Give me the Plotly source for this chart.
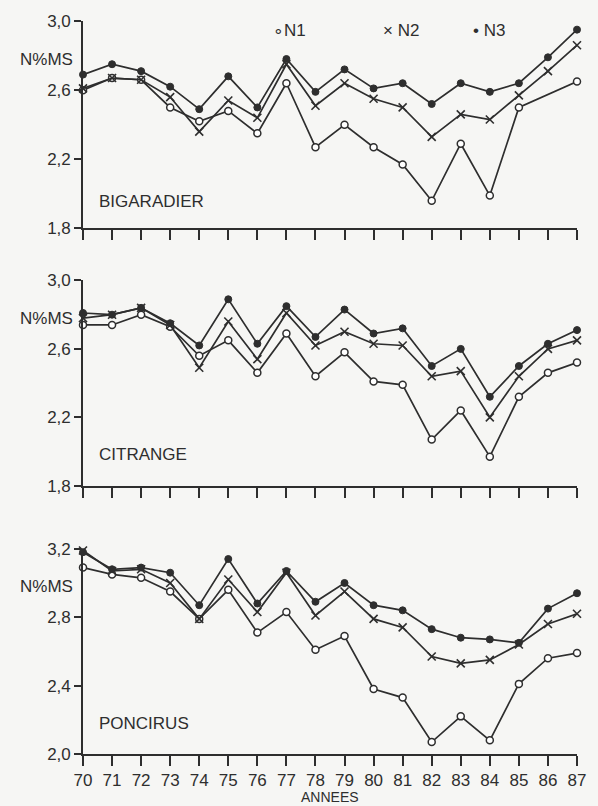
import plotly.graph_objects as go

# Years (19xx) on the shared horizontal axis
years = list(range(70, 88))
year_labels = [str(y) for y in years]

# Leaf nitrogen content (N % dry matter) for three fertilisation levels
bigaradier_n1 = [2.60, 2.67, 2.66, 2.50, 2.42, 2.48, 2.35, 2.64, 2.27, 2.40,
                 2.27, 2.17, 1.96, 2.29, 1.99, 2.50, None, 2.65]
bigaradier_n2 = [2.61, 2.67, 2.66, 2.56, 2.36, 2.54, 2.44, 2.75, 2.51, 2.64,
                 2.55, 2.50, 2.33, 2.46, 2.43, 2.57, 2.71, 2.86]
bigaradier_n3 = [2.69, 2.75, 2.71, 2.62, 2.49, 2.68, 2.50, 2.78, 2.59, 2.72,
                 2.61, 2.64, 2.52, 2.64, 2.59, 2.64, 2.79, 2.95]

citrange_n1 = [2.74, 2.74, 2.80, 2.73, 2.56, 2.65, 2.46, 2.69, 2.44, 2.58,
               2.41, 2.39, 2.07, 2.24, 1.97, 2.32, 2.46, 2.52]
citrange_n2 = [2.78, 2.80, 2.84, 2.74, 2.49, 2.76, 2.54, 2.81, 2.62, 2.70,
               2.63, 2.62, 2.44, 2.47, 2.20, 2.44, 2.60, 2.65]
citrange_n3 = [2.81, 2.80, 2.84, 2.75, 2.62, 2.89, 2.63, 2.85, 2.67, 2.83,
               2.69, 2.72, 2.50, 2.60, 2.32, 2.50, 2.63, 2.71]

poncirus_n1 = [3.09, 3.05, 3.03, 2.95, 2.79, 2.96, 2.71, 2.83, 2.61, 2.69,
               2.38, 2.33, 2.07, 2.22, 2.08, 2.41, 2.56, 2.59]
poncirus_n2 = [3.19, 3.07, 3.08, 3.00, 2.79, 3.02, 2.83, 3.06, 2.81, 2.95,
               2.79, 2.74, 2.57, 2.53, 2.55, 2.64, 2.76, 2.82]
poncirus_n3 = [3.18, 3.08, 3.09, 3.06, 2.87, 3.14, 2.88, 3.07, 2.89, 3.00,
               2.87, 2.84, 2.73, 2.68, 2.67, 2.65, 2.85, 2.94]

rootstocks = ["BIGARADIER", "CITRANGE", "PONCIRUS"]
series_names = ["N1", "N2", "N3"]

upper_ticks = [1.8, 2.2, 2.6, 3.0]
upper_tick_labels = ["1,8", "2,2", "2,6", "3,0"]
lower_ticks = [2.0, 2.4, 2.8, 3.2]
lower_tick_labels = ["2,0", "2,4", "2,8", "3,2"]

y_label = "N%MS"
x_label = "ANNEES"

INK = "#2e2e2e"
BG = "#f6f6f4"
FONT = "Liberation Sans, Arial, sans-serif"

panels = [
    (rootstocks[0], [bigaradier_n1, bigaradier_n2, bigaradier_n3], upper_ticks, upper_tick_labels),
    (rootstocks[1], [citrange_n1, citrange_n2, citrange_n3], upper_ticks, upper_tick_labels),
    (rootstocks[2], [poncirus_n1, poncirus_n2, poncirus_n3], lower_ticks, lower_tick_labels),
]

marker_styles = [
    dict(symbol="circle", size=7, color="white", line=dict(color=INK, width=1.5)),
    dict(symbol="x-thin", size=8, color=INK, line=dict(color=INK, width=1.6)),
    dict(symbol="circle", size=7, color=INK, line=dict(color=INK, width=1)),
]

# vertical placement of the three panels (paper fractions)
domains = [[0.717, 1.0], [0.366, 0.646], [0.0, 0.280]]

fig = go.Figure()
layout = {}
annotations = []

for i, (name, series, ticks, tick_labels) in enumerate(panels):
    n = i + 1
    xa = "x" if n == 1 else f"x{n}"
    ya = "y" if n == 1 else f"y{n}"
    for s, values, mk in zip(series_names, series, marker_styles):
        fig.add_trace(go.Scatter(
            x=years, y=values, mode="lines+markers", name=s,
            xaxis=xa, yaxis=ya, showlegend=False, connectgaps=True,
            line=dict(color=INK, width=1.7), marker=mk, cliponaxis=False,
        ))
    last = (n == 3)
    layout[f"xaxis{'' if n == 1 else n}"] = dict(
        domain=[0, 1], anchor=ya, range=[70, 87],
        tickvals=years, ticktext=year_labels if last else [""] * len(years),
        showticklabels=last, ticks="outside", ticklen=10, tickwidth=1.6,
        tickcolor=INK, showline=True, linecolor=INK, linewidth=1.6,
        showgrid=False, zeroline=False,
        tickfont=dict(size=17, color=INK, family=FONT),
    )
    layout[f"yaxis{'' if n == 1 else n}"] = dict(
        domain=domains[i], anchor=xa, range=[ticks[0], ticks[-1]],
        tickvals=ticks, ticktext=tick_labels, ticks="outside", ticklen=7,
        tickwidth=1.6, tickcolor=INK, showline=True, linecolor=INK,
        linewidth=1.6, showgrid=False, zeroline=False,
        tickfont=dict(size=17, color=INK, family=FONT),
    )
    annotations.append(dict(
        text=y_label, xref="paper", yref=f"{ya} domain", x=-0.016, y=0.815,
        xanchor="right", yanchor="middle", showarrow=False,
        font=dict(size=17, color=INK, family=FONT),
    ))
    annotations.append(dict(
        text=name, xref="paper", yref=f"{ya} domain", x=0.029,
        y=0.13 if n == 1 else 0.15,
        xanchor="left", yanchor="middle", showarrow=False,
        font=dict(size=17, color=INK, family=FONT),
    ))

# legend keys along the top of the first panel
legend_keys = ["∘N1", "× N2", "• N3"]
for key, xpos in zip(legend_keys, [0.380, 0.604, 0.786]):
    annotations.append(dict(
        text=key, xref="paper", yref="paper", x=xpos, y=0.987,
        xanchor="left", yanchor="middle", showarrow=False,
        font=dict(size=17, color=INK, family=FONT),
    ))

annotations.append(dict(
    text=x_label, xref="paper", yref="paper", x=0.5, y=-0.059,
    xanchor="center", yanchor="middle", showarrow=False,
    font=dict(size=14, color=INK, family=FONT),
))

fig.update_layout(
    width=598, height=806,
    margin=dict(l=83, r=15, t=19, b=52),
    paper_bgcolor=BG, plot_bgcolor=BG,
    annotations=annotations, showlegend=False,
    **layout,
)

fig.write_html("out.html")
